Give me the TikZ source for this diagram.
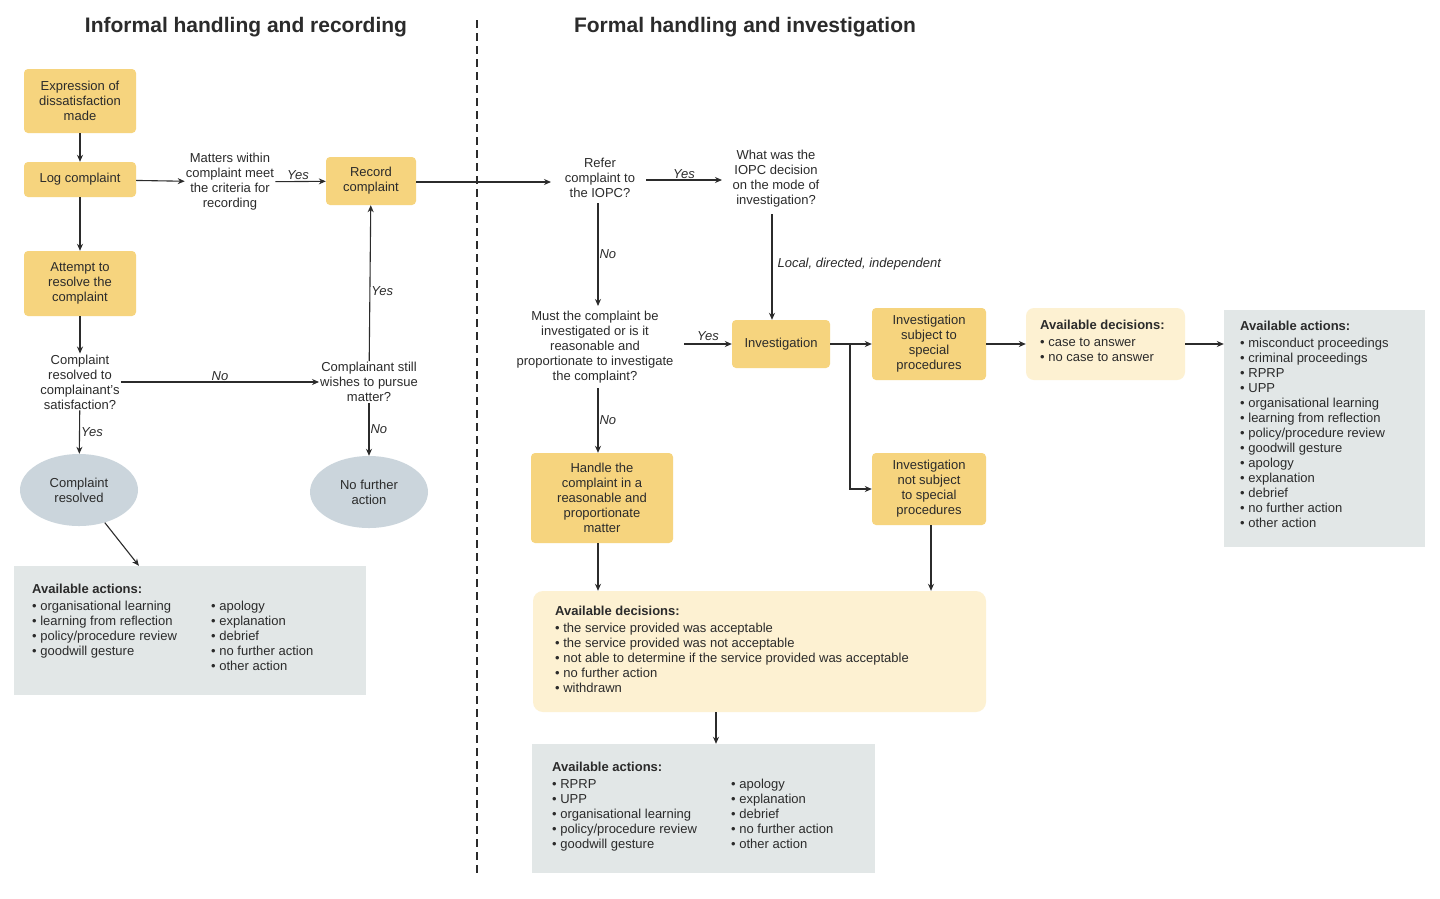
\documentclass[tikz,border=0pt]{standalone}
\usepackage{fontspec}
\setmainfont{Liberation Sans}
\usetikzlibrary{arrows.meta,shapes.geometric}
\definecolor{gold}{HTML}{F6D47E}
\definecolor{cream}{HTML}{FDF1D2}
\definecolor{greybox}{HTML}{E2E7E7}
\definecolor{ell}{HTML}{CBD5DC}
\definecolor{ink}{HTML}{2B2B2B}
\begin{document}
\begin{tikzpicture}[x=1pt,y=-1pt,
  every node/.style={font=\fontsize{13}{15}\selectfont, text=ink},
  ybox/.style={fill=gold, rounded corners=4pt, align=center, inner sep=2pt},
  txt/.style={align=center, inner sep=1pt},
  lab/.style={font=\fontsize{13}{15}\selectfont\itshape, inner sep=1pt},
  lst/.style={align=left, anchor=north west, inner sep=0pt},
  arr/.style={draw=ink, line width=1.1pt, -{Stealth[length=7pt,width=6pt]}},
  ttl/.style={font=\fontsize{21}{24}\selectfont\bfseries, text=ink}]
\useasboundingbox[fill=white] (0,0) rectangle (1440,898);
\node[ttl] (t1) at (246,27) {Informal handling and recording};
\node[ttl] (t2) at (745,27) {Formal handling and investigation};
\coordinate (d1) at (477,20); \coordinate (d2) at (477,874);
\draw[ink, line width=1.2pt, dash pattern=on 8pt off 5pt] (d1) -- (d2);

% left side
\node[ybox, minimum width=112pt, minimum height=64pt] (expr) at (80,101) {Expression of\\dissatisfaction\\made};
\node[ybox, minimum width=112pt, minimum height=35pt] (log) at (80,179.5) {Log complaint};
\node[txt] (matters) at (230,182) {Matters within\\complaint meet\\the criteria for\\recording};
\node[ybox, minimum width=90pt, minimum height=48pt] (record) at (371,181) {Record\\complaint};
\node[ybox, minimum width=112pt, minimum height=65pt] (attempt) at (80,283.5) {Attempt to\\resolve the\\complaint};
\node[txt] (resq) at (80,382) {Complaint\\resolved to\\complainant’s\\satisfaction?};
\node[txt] (still) at (369,382) {Complainant still\\wishes to pursue\\matter?};
\node[ellipse, fill=ell, minimum width=118pt, minimum height=72pt, align=center, inner sep=0pt] (cres) at (79,490) {Complaint\\resolved};
\node[ellipse, fill=ell, minimum width=118pt, minimum height=72pt, align=center, inner sep=0pt] (nfa) at (369,492) {No further\\action};
\node[fill=greybox, minimum width=352pt, minimum height=129pt, inner sep=0pt] (gl) at (190,630.5) {};
\node[lst] (gl1) at (32,584) {\textbf{Available actions:}\\[2pt]• organisational learning\\• learning from reflection\\• policy/procedure review\\• goodwill gesture};
\node[lst] (gl2) at (211,601) {• apology\\• explanation\\• debrief\\• no further action\\• other action};

\draw[arr] (expr) -- (log);
\draw[arr] (log) -- (matters);
\draw[arr] (matters) -- node[lab, above, pos=0.45]{Yes} (record);
\draw[arr] (log) -- (attempt);
\draw[arr] (attempt) -- (resq);
\draw[arr] (resq) -- node[lab, above]{No} (still);
\draw[arr] (still) -- node[lab, right, pos=0.45]{Yes} (record);
\draw[arr] (still) -- node[lab, right]{No} (nfa);
\draw[arr] (resq) -- node[lab, right]{Yes} (cres);
\draw[arr] (cres) -- (gl);

% right side
\node[txt] (refer) at (600,178) {Refer\\complaint to\\the IOPC?};
\node[txt] (what) at (776,179) {What was the\\IOPC decision\\on the mode of\\investigation?};
\node[txt] (must) at (595,347) {Must the complaint be\\investigated or is it\\reasonable and\\proportionate to investigate\\the complaint?};
\node[ybox, minimum width=98pt, minimum height=48pt] (inv) at (781,344) {Investigation};
\node[ybox, minimum width=114pt, minimum height=72pt] (invs) at (929,344) {Investigation\\subject to\\special\\procedures};
\node[ybox, minimum width=114pt, minimum height=72pt] (invn) at (929,489) {Investigation\\not subject\\to special\\procedures};
\node[ybox, minimum width=142pt, minimum height=90pt] (handle) at (602,498) {Handle the\\complaint in a\\reasonable and\\proportionate\\matter};
\node[fill=cream, rounded corners=8pt, minimum width=159pt, minimum height=72pt, inner sep=0pt] (dsm) at (1105.5,344) {};
\node[lst] (dsm1) at (1040,320) {\textbf{Available decisions:}\\[2pt]• case to answer\\• no case to answer};
\node[fill=greybox, minimum width=201pt, minimum height=237pt, inner sep=0pt] (gr) at (1324.5,428.5) {};
\node[lst] (gr1) at (1240,321) {\textbf{Available actions:}\\[2pt]• misconduct proceedings\\• criminal proceedings\\• RPRP\\• UPP\\• organisational learning\\• learning from reflection\\• policy/procedure review\\• goodwill gesture\\• apology\\• explanation\\• debrief\\• no further action\\• other action};
\node[fill=cream, rounded corners=10pt, minimum width=453pt, minimum height=121pt, inner sep=0pt] (dbig) at (759.5,651.5) {};
\node[lst] (dbig1) at (555,606) {\textbf{Available decisions:}\\[2pt]• the service provided was acceptable\\• the service provided was not acceptable\\• not able to determine if the service provided was acceptable\\• no further action\\• withdrawn};
\node[fill=greybox, minimum width=343pt, minimum height=129pt, inner sep=0pt] (gb) at (703.5,808.5) {};
\node[lst] (gb1) at (552,762) {\textbf{Available actions:}\\[2pt]• RPRP\\• UPP\\• organisational learning\\• policy/procedure review\\• goodwill gesture};
\node[lst] (gb2) at (731,779) {• apology\\• explanation\\• debrief\\• no further action\\• other action};

\coordinate (rin) at (551,182);
\draw[arr] (record.east |- rin) -- (rin);
\draw[arr] (646,180) -- node[lab, above]{Yes} (722,180);
\draw[arr] (598,203) -- node[lab, right, pos=0.5]{No} (598,306);
\draw[arr] (772,214) -- node[lab, right, pos=0.47, xshift=4pt]{Local, directed, independent} (inv.north -| 772,0);
\draw[arr] (684,344) -- node[lab, above, yshift=2pt]{Yes} (inv.west);
\draw[arr] (598,388) -- node[lab, right]{No} (handle.north -| 598,0);
\draw[arr] (inv) -- (invs);
\coordinate (br) at (850,344);
\draw[arr] (br) |- (invn.west);
\draw[arr] (invs) -- (dsm);
\draw[arr] (dsm) -- (gr.west |- dsm);
\draw[arr] (handle.south -| 598,0) -- (dbig.north -| 598,0);
\draw[arr] (invn.south -| 931,0) -- (dbig.north -| 931,0);
\draw[arr] (dbig.south -| 716,0) -- (gb.north -| 716,0);
\end{tikzpicture}
\end{document}
